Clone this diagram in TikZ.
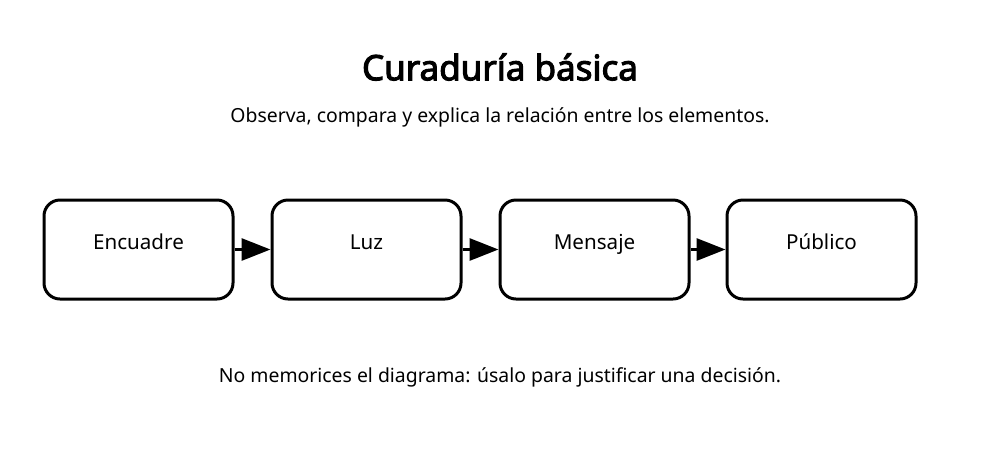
\documentclass[tikz,border=0pt]{standalone}
\usepackage{fontspec}
\setmainfont{Noto Sans}
\newfontfamily\titlefont{Noto Sans}[FakeBold=3]
\usetikzlibrary{arrows.meta}
\begin{document}
\begin{tikzpicture}[x=1pt,y=1pt,
  stage/.style={draw,line width=3pt,rounded corners=16pt,minimum width=189pt,minimum height=99pt,inner sep=0pt},
  lbl/.style={font=\fontsize{19.4}{23}\selectfont},
  tag/.style={font=\fontsize{20.6}{24}\selectfont,text height=15pt,text depth=4pt},
  flow/.style={line width=3pt,-{Triangle[length=29pt,width=22pt]}}]
\useasboundingbox (0,0) rectangle (1000,-467);

\node[font=\fontsize{35}{40}\titlefont] (title) at (500,-67) {Curaduría básica};
\node[lbl] (sub) at (500,-117) {Observa, compara y explica la relación entre los elementos.};

\node[stage] (encuadre) at (138.5,-249.5) {};
\node[stage] (luz) at (366.5,-249.5) {};
\node[stage] (mensaje) at (594.5,-249.5) {};
\node[stage] (publico) at (821.5,-249.5) {};

\node[tag] at (138.5,-244) {Encuadre};
\node[tag] at (366.5,-244) {Luz};
\node[tag] at (594.5,-244) {Mensaje};
\node[tag] at (821.5,-244) {Público};

\draw[flow] (encuadre.east)--(luz.west);
\draw[flow] (luz.east)--(mensaje.west);
\draw[flow] (mensaje.east)--(publico.west);

\node[lbl] (note) at (500,-377) {No memorices el diagrama: úsalo para justificar una decisión.};
\end{tikzpicture}
\end{document}
